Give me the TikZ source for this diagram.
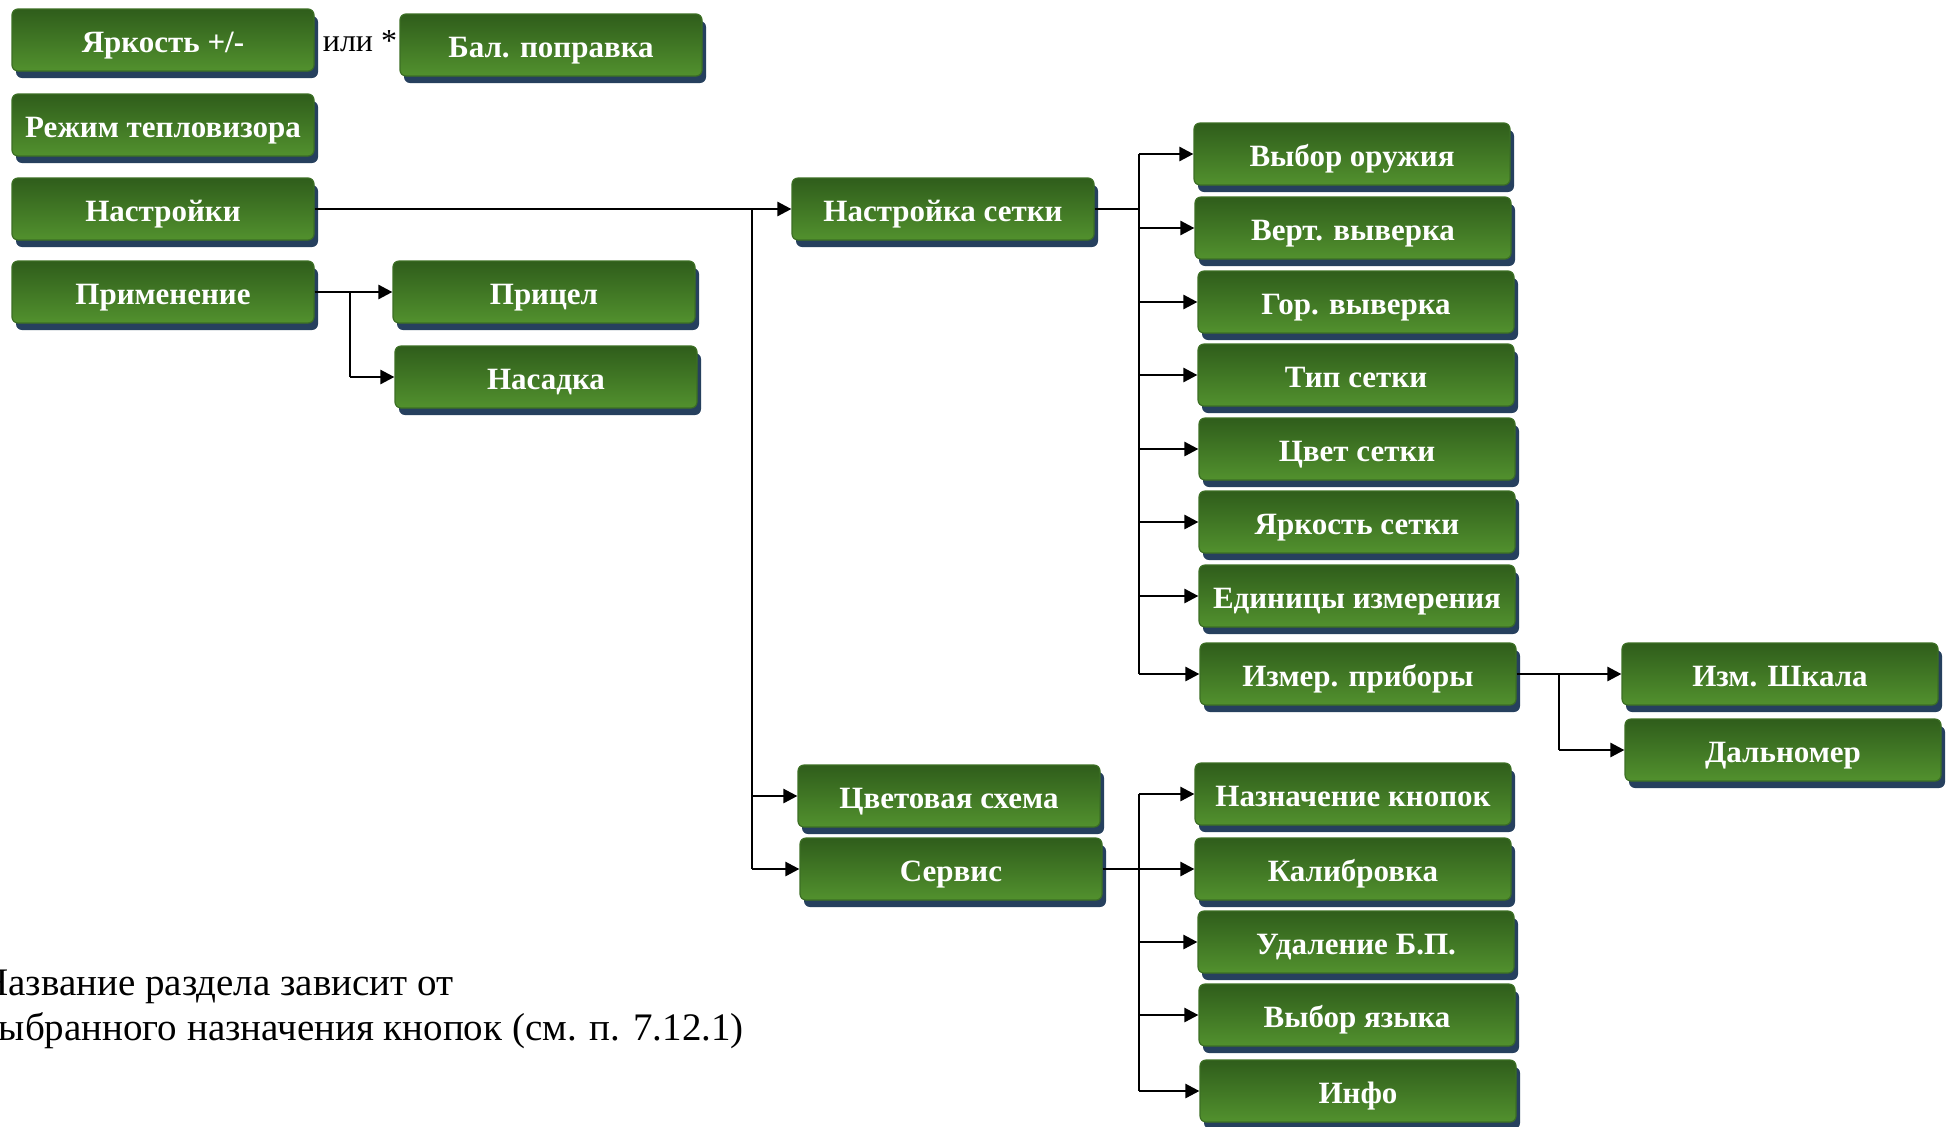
\documentclass[tikz,border=0pt]{standalone}
\usepackage{fontspec}
\setmainfont{Liberation Serif}
\usetikzlibrary{shadows,arrows.meta}
\definecolor{gtop}{HTML}{2F5D1B}
\definecolor{gbot}{HTML}{52912E}
\definecolor{grim}{HTML}{3C6F24}
\definecolor{shb}{HTML}{26405E}
\tikzset{
  btn/.style={rounded corners=3pt, top color=gtop, bottom color=gbot, draw=grim,
    line width=0.6pt, minimum height=31pt, minimum width=151pt, text=white,
    font=\fontsize{15.5}{18}\selectfont\bfseries, inner sep=0pt,
    text height=13.5pt, text depth=1.5pt,
    drop shadow={shadow xshift=2pt, shadow yshift=-3.5pt, fill=shb, opacity=1}},
  wbtn/.style={btn, minimum width=158pt},
  link/.style={line width=1.3pt, draw=black},
  arr/.style={link, -{Triangle[length=7pt,width=7pt]}},
  note/.style={font=\fontsize{19.5}{22.5}\selectfont, inner sep=0pt, align=left, anchor=north west},
}
\begin{document}
\begin{tikzpicture}[x=0.5pt,y=-0.5pt]
\useasboundingbox (0,0) rectangle (1946,1126);
\fill[white] (0,0) rectangle (1946,1126);
\clip (0,0) rectangle (1946,1126);

% left column
\node[btn] (yark)   at (163,40)  {Яркость +/-};
\node[btn] (rezhim) at (163,125) {Режим тепловизора};
\node[btn] (nastr)  at (163,209) {Настройки};
\node[btn] (prim)   at (163,292) {Применение};
\node[font=\fontsize{16}{18}\selectfont, inner sep=0pt] (ili) at (360,41) {или *};
\node[btn] (bal)    at (551,45)  {Бал. поправка};
\node[btn] (pricel) at (544,292) {Прицел};
\node[btn] (nasad)  at (546,377) {Насадка};

% middle column
\node[btn] (setka)  at (943,209) {Настройка сетки};
\node[btn] (cvet)   at (949,796) {Цветовая схема};
\node[btn] (servis) at (951,869) {Сервис};

% right column
\node[wbtn] (vyb)   at (1352,154)  {Выбор оружия};
\node[wbtn] (vert)  at (1353,228)  {Верт. выверка};
\node[wbtn] (gor)   at (1356,302)  {Гор. выверка};
\node[wbtn] (tip)   at (1356,375)  {Тип сетки};
\node[wbtn] (cvs)   at (1357,449)  {Цвет сетки};
\node[wbtn] (yarks) at (1357,522)  {Яркость сетки};
\node[wbtn] (edin)  at (1357,596)  {Единицы измерения};
\node[wbtn] (izmer) at (1358,674)  {Измер. приборы};
\node[wbtn] (naz)   at (1353,794)  {Назначение кнопок};
\node[wbtn] (kal)   at (1353,869)  {Калибровка};
\node[wbtn] (udal)  at (1356,942)  {Удаление Б.П.};
\node[wbtn] (yaz)   at (1357,1015) {Выбор языка};
\node[wbtn] (info)  at (1358,1091) {Инфо};

% far right
\node[wbtn] (shkala) at (1780,674) {Изм. Шкала};
\node[wbtn] (dal)    at (1783,750) {Дальномер};

% note
\node[note] (note) at (-20,970) {Название раздела зависит от\\выбранного назначения кнопок (см. п. 7.12.1)};

% trunks
\coordinate (tp) at (350,0);
\coordinate (tl) at (752,0);
\coordinate (tr) at (1139,0);
\coordinate (ti) at (1559,0);

% Применение
\draw[arr] (prim.east) -- (pricel.west);
\draw[link] (prim.east -| tp) -- (nasad.west -| tp);
\draw[arr] (nasad.west -| tp) -- (nasad.west);

% Настройки
\draw[arr] (nastr.east) -- (setka.west);
\draw[link] (nastr.east -| tl) -- (servis.west -| tl);
\draw[arr] (cvet.west -| tl) -- (cvet.west);
\draw[arr] (servis.west -| tl) -- (servis.west);

% Настройка сетки
\draw[link] (setka.east) -- (setka.east -| tr);
\draw[link] (vyb.west -| tr) -- (izmer.west -| tr);
\foreach \n in {vyb,vert,gor,tip,cvs,yarks,edin,izmer}
  \draw[arr] (\n.west -| tr) -- (\n.west);

% Сервис
\draw[arr] (servis.east) -- (kal.west);
\draw[link] (naz.west -| tr) -- (info.west -| tr);
\foreach \n in {naz,udal,yaz,info}
  \draw[arr] (\n.west -| tr) -- (\n.west);

% Измер. приборы
\draw[arr] (izmer.east) -- (shkala.west);
\draw[link] (izmer.east -| ti) -- (dal.west -| ti);
\draw[arr] (dal.west -| ti) -- (dal.west);
\end{tikzpicture}
\end{document}
